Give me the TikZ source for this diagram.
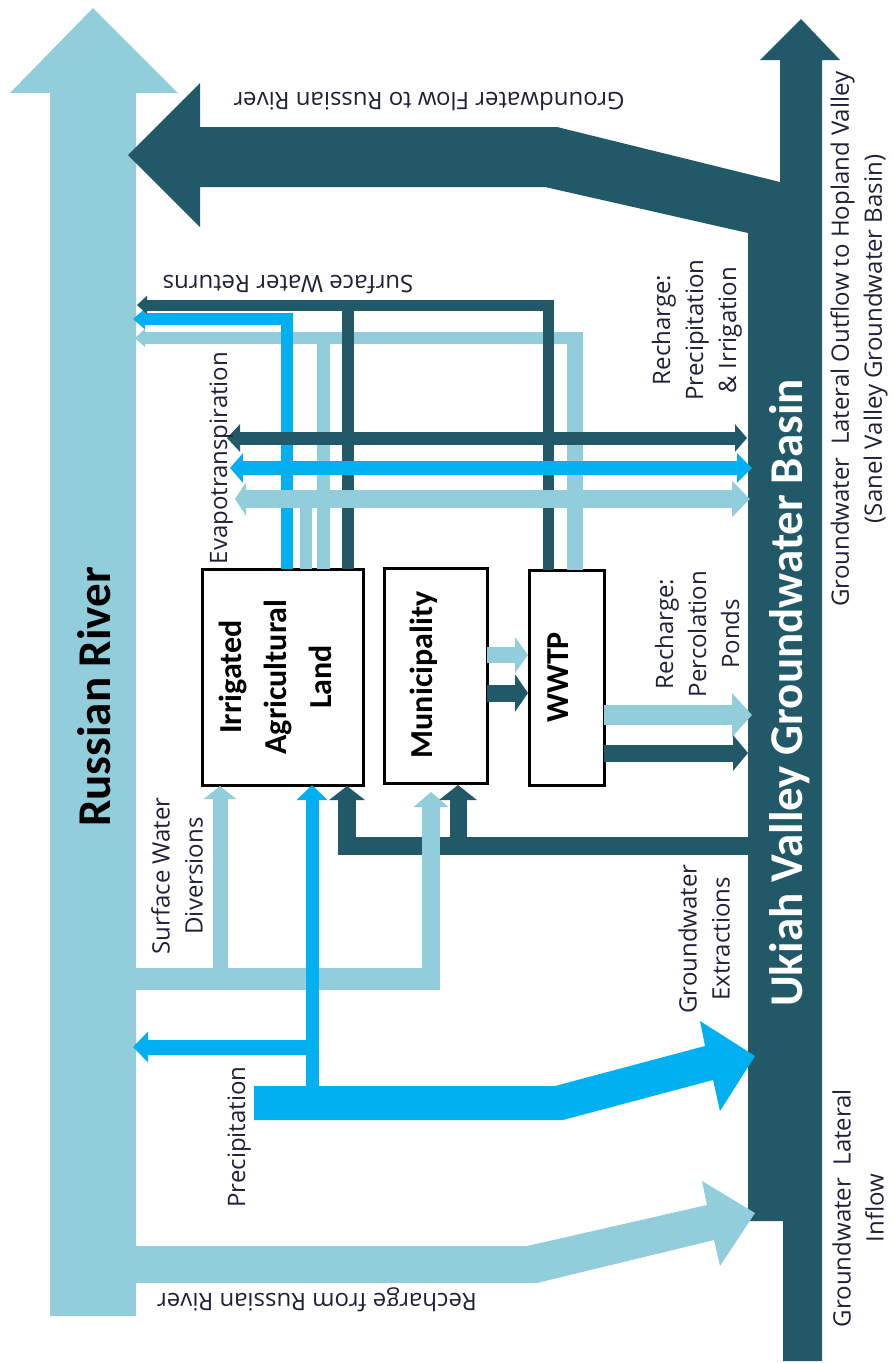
\documentclass[tikz,border=0pt]{standalone}
\usepackage{fontspec}
\usetikzlibrary{arrows.meta}
\newfontfamily\labfont{Open Sans}
\newfontfamily\headfont{Carlito}
\definecolor{lb}{RGB}{146,205,220}
\definecolor{bb}{RGB}{0,176,240}
\definecolor{db}{RGB}{33,89,104}
\definecolor{txt}{RGB}{30,33,55}
\begin{document}
\begin{tikzpicture}[x=1pt,y=-1pt,
  lab/.style={font=\labfont\fontsize{24}{33}\selectfont, text=txt, align=center, inner sep=0pt},
  headlab/.style={font=\headfont\bfseries\fontsize{47}{50}\selectfont, inner sep=0pt},
  boxnode/.style={draw=black, line width=3pt, fill=white, inner sep=0pt},
  boxtext/.style={font=\headfont\bfseries\fontsize{32}{45}\selectfont, text=black, align=center, rotate=90, inner sep=0pt},
  flow/.style={line width=#1, line cap=butt, line join=miter},
  tip/.style n args={2}{-{Triangle[width=#1pt,length=#2pt]}}
]
\useasboundingbox (0,0) rectangle (894,1363);

% Russian River
\fill[lb] (50,1316) -- (50,93) -- (10,93) -- (93,8) -- (178,93) -- (136,93) -- (136,1316) -- cycle;
% Ukiah valley basin column + groundwater flow to river
\fill[db] (128,155) -- (200,83) -- (200,127) -- (557,127) -- (780,182) -- (780,60) -- (760,60) -- (801,19) -- (840,60) -- (822,60) -- (822,1361) -- (783,1361) -- (783,1221) -- (748,1221) -- (748,233) -- (545,187) -- (200,187) -- (200,227) -- cycle;

% Recharge from Russian River
\fill[lb] (130,1246) -- (527,1246) -- (707,1205) -- (702,1181) -- (755,1213) -- (720,1266) -- (714,1240) -- (537,1283) -- (130,1283) -- cycle;
% Precipitation
\fill[bb] (254,1086) -- (555,1086) -- (705,1046) -- (700,1021) -- (755,1056) -- (720,1111) -- (713,1080) -- (563,1120) -- (254,1120) -- cycle;

% Boxes
\node[boxnode, minimum width=161pt, minimum height=216pt] (irr) at (282.5,677) {};
\node[boxnode, minimum width=103pt, minimum height=215pt] (mun) at (435.5,675.5) {};
\node[boxnode, minimum width=75pt, minimum height=215pt] (wwtp) at (566.5,677.5) {};

% Surface water returns
\draw[lb, flow=16pt] (575,570) -- (575,332);
\draw[lb, flow=12pt, tip={18}{10}] (583,338) -- (135,338);
\draw[lb, flow=13pt] (323,569) -- (323,338);
\draw[bb, flow=12pt, tip={20}{12}] (287,569) -- (287,319) -- (133,319);
\draw[db, flow=12pt] (348,569) -- (348,305);
\draw[db, flow=11pt, tip={18}{10}] (548,570) -- (548,305) -- (137,305);

% Evapotranspiration / recharge precipitation & irrigation
\draw[lb, flow=12pt] (306,569) -- (306,499);
\draw[db, flow=13pt, {Triangle[width=27pt,length=13pt]}-{Triangle[width=27pt,length=12pt]}] (227,438) -- (747,438);
\draw[bb, flow=14pt, {Triangle[width=29pt,length=13pt]}-{Triangle[width=29pt,length=15pt]}] (230,468) -- (752,468);
\draw[lb, flow=18pt, {Triangle[width=33pt,length=11pt]}-{Triangle[width=35pt,length=18pt]}] (235,499) -- (750,499);

% Surface water diversions
\draw[lb, flow=22pt] (130,979) -- (440,979);
\draw[lb, flow=15pt, tip={32}{13}] (220,979) -- (220,786);
% Groundwater extractions
\draw[db, flow=18pt] (748,846) -- (338,846);
\draw[lb, flow=18pt, tip={34}{15}] (431,990) -- (431,792);
\draw[db, flow=18pt, tip={35}{14}] (347,855) -- (347,786);
\draw[db, flow=17pt, tip={37}{15}] (458,846) -- (458,785);
% Precipitation branches
\draw[bb, flow=13pt, tip={30}{15}] (312,1088) -- (312,785);
\draw[bb, flow=15pt, tip={30}{15}] (318,1047) -- (133,1047);

% Municipality -> WWTP
\draw[lb, flow=16pt, tip={35}{13}] (487,655) -- (528,655);
\draw[db, flow=17pt, tip={37}{13}] (487,693) -- (528,693);
% WWTP -> basin
\draw[lb, flow=20pt, tip={43}{20}] (604,715) -- (752,715);
\draw[db, flow=17pt, tip={35}{15}] (604,753) -- (748,753);

% Box texts
\node[boxtext] (irrt) at (275,677) {Irrigated\\Agricultural\\Land};
\node[boxtext, anchor=base] (munt) at (432,675) {Municipality};
\node[boxtext, anchor=base] (wwtpt) at (568,677.5) {WWTP};

% Main labels
\node[headlab, rotate=90, anchor=base, text=black] (rr) at (110,697) {Russian River};
\node[headlab, rotate=90, anchor=base, text=white] (uv) at (802,693) {Ukiah Valley Groundwater Basin};

% Small labels
\node[lab, rotate=180, anchor=base] (gwflow) at (429,92) {Groundwater Flow to Russian River};
\node[lab, rotate=180, anchor=base] (swr) at (288,275) {Surface Water Returns};
\node[lab, rotate=180, anchor=base] (rfr) at (317,1293) {Recharge from Russian River};
\node[lab, rotate=90, anchor=base] (et) at (227,458) {Evapotranspiration};
\node[lab, rotate=90, anchor=base] (prec) at (245,1137) {Precipitation};
\node[lab, rotate=90] (rpi) at (697,330) {Recharge:\\Precipitation\\\& Irrigation};
\node[lab, rotate=90] (rpp) at (697,634) {Recharge:\\Percolation\\Ponds};
\node[lab, rotate=90] (gwout) at (859,339) {Groundwater\ \ Lateral Outflow to Hopland Valley\\(Sanel Valley Groundwater Basin)};
\node[lab, rotate=90] (gwext) at (704,939) {Groundwater\\Extractions};
\node[lab, rotate=90] (gwin) at (858,1208) {Groundwater\ \ Lateral\\Inflow};
\node[lab, rotate=90] (swd) at (177,876) {Surface Water\\Diversions};
\end{tikzpicture}
\end{document}
